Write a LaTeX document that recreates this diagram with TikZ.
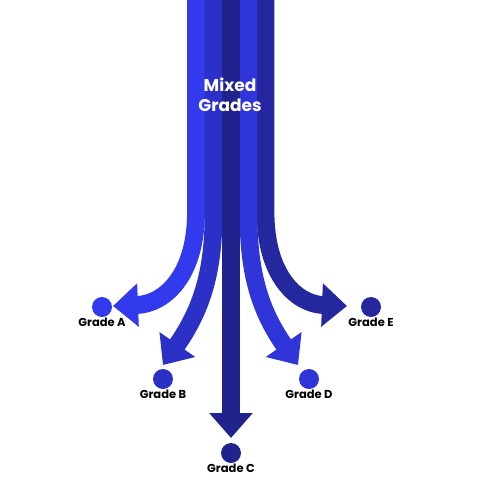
\documentclass[tikz,border=0pt]{standalone}
\usepackage{fontspec}
\setmainfont{Poppins}
\usetikzlibrary{
  arrows.meta % For arrow tips
}

% Farben der Ströme
\definecolor{streamA}{HTML}{3339EC}
\definecolor{streamB}{HTML}{2B30C6}
\definecolor{streamC}{HTML}{21238C}
\definecolor{streamD}{HTML}{2F35D8}
\definecolor{streamE}{HTML}{25279E}

\begin{document}
\begin{tikzpicture}[
      x=1pt, y=-1pt, % pixel-like units, y down
      stream/.style={line width=17.8pt, -{Triangle[length=25pt, width=42pt]}}, % Style for the grade streams
      gradedot/.style={circle, inner sep=0pt, minimum size=20pt}, % Style for the end dots
      gradelabel/.style={font=\bfseries\fontsize{11.5}{13}\selectfont, text=black, inner sep=1pt}, % Style for labels
    ]

    \useasboundingbox (0,0) rectangle (480,480);

    % Koordinaten oben (Start der Ströme)
    \coordinate (topA) at (196, 0);
    \coordinate (topB) at (213.5, 0);
    \coordinate (topC) at (231, 0);
    \coordinate (topD) at (248.5, 0);
    \coordinate (topE) at (265.5, 0);

    % Pfeilspitzen
    \coordinate (tipA) at (113, 306);
    \coordinate (tipB) at (163, 365);
    \coordinate (tipC) at (231, 438);
    \coordinate (tipD) at (298, 365);
    \coordinate (tipE) at (347, 306);

    % Ströme
    \draw[stream, streamA] (topA) -- (196, 212) .. controls (196, 275) and (165, 304) .. (tipA);
    \draw[stream, streamB] (topB) -- (213.5, 215) .. controls (213.5, 275) and (200, 312) .. (tipB);
    \draw[stream, streamE] (topE) -- (265.5, 212) .. controls (265.5, 275) and (296, 304) .. (tipE);
    \draw[stream, streamD] (topD) -- (248.5, 215) .. controls (248.5, 275) and (261, 312) .. (tipD);
    \draw[stream, streamC] (topC) -- (tipC);

    \node[font=\bfseries\fontsize{17}{20}\selectfont, text=white, align=center] (mixed) at (230, 95) {Mixed\\Grades};

    % Punkte und Beschriftungen
    \foreach \g/\c/\x/\y in {A/streamA/102/307, B/streamB/163/379, C/streamC/231/453, D/streamD/309/379, E/streamE/371/307}
    {
      \node[gradedot, fill=\c] (dot\g) at (\x, \y) {};
      \node[gradelabel, below] (label\g) at (dot\g.south) {Grade \g};
    }

  \end{tikzpicture}
\end{document}
